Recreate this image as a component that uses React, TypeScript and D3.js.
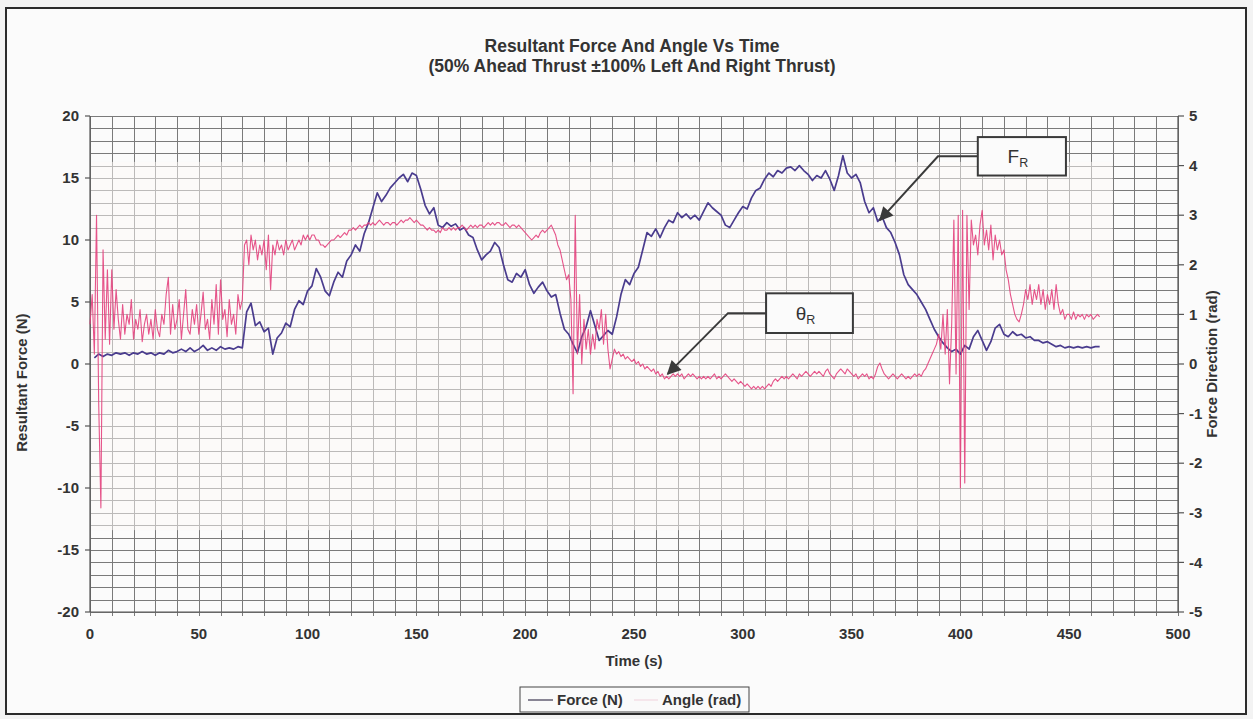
import { useEffect, useRef } from 'react';
import * as d3 from 'd3';

// Force (N) sampled every 2 s from t = 2 s
const forceStart = 2;
const forceStep = 2;
const forceValues = [
    0.5, 0.8, 0.6, 0.8, 0.7, 0.9, 0.8, 0.9, 0.7, 0.9,
    0.8, 1.0, 0.8, 0.9, 0.7, 0.9, 0.8, 1.1, 0.9, 1.0,
    1.2, 1.0, 1.3, 1.0, 1.2, 1.5, 1.1, 1.3, 1.1, 1.4,
    1.2, 1.3, 1.2, 1.4, 1.3, 4.2, 4.9, 3.1, 3.4, 2.6,
    2.9, 0.8, 2.1, 2.5, 3.3, 3.0, 4.4, 5.1, 4.8, 5.9,
    6.3, 7.7, 7.0, 5.9, 5.5, 6.6, 7.4, 7.0, 8.3, 8.8,
    9.6, 9.1, 10.5, 11.4, 12.6, 13.8, 13.1, 13.6, 14.2, 14.6,
    15.0, 15.3, 14.7, 15.4, 15.2, 14.1, 12.8, 12.1, 12.6, 11.2,
    11.0, 11.4, 11.1, 11.3, 10.8, 11.0, 10.4, 10.2, 9.2, 8.4,
    8.8, 9.1, 9.8, 9.4, 8.0, 6.8, 6.6, 7.3, 7.0, 7.6,
    6.4, 5.7, 6.2, 6.6, 5.9, 5.4, 5.6, 4.1, 2.8, 2.4,
    1.6, 0.9, 2.2, 3.0, 4.3, 3.1, 1.9, 2.3, 2.7, 2.4,
    3.8, 5.6, 6.8, 6.4, 7.3, 7.8, 9.2, 10.6, 10.3, 10.9,
    10.2, 11.0, 11.6, 11.4, 12.2, 11.8, 12.1, 11.7, 12.0, 11.6,
    12.3, 13.0, 12.6, 12.3, 12.0, 11.2, 11.0, 11.6, 12.2, 12.7,
    12.5, 13.4, 14.0, 14.2, 14.9, 15.4, 15.1, 15.6, 15.4, 15.8,
    15.9, 15.6, 16.0, 15.6, 15.3, 14.8, 15.2, 15.0, 15.6, 14.9,
    14.0, 15.2, 16.8, 15.4, 15.0, 15.3, 14.6, 13.1, 12.2, 12.6,
    11.5, 11.9, 11.0, 10.6, 9.8, 8.8, 7.2, 6.4, 6.0, 5.6,
    5.0, 4.4, 3.6, 2.8, 2.2, 1.7, 1.3, 1.0, 1.2, 0.8,
    1.5, 1.2, 2.2, 2.7, 1.9, 1.1, 1.8, 2.9, 3.2, 2.4,
    2.2, 2.6, 2.3, 2.4, 2.1, 2.2, 1.9, 1.9, 1.7, 1.8,
    1.6, 1.4, 1.5, 1.3, 1.4, 1.3, 1.4, 1.3, 1.4, 1.3,
    1.4, 1.4,
];

// Angle (rad) sampled every 1 s from t = 0 s
const angleStart = 0;
const angleStep = 1;
const angleValues = [
    0.8, 1.4, 0.2, 3.0, -0.8, -2.9, 2.3, 0.5, 1.9, 0.4,
    1.9, 0.7, 1.5, 0.9, 0.5, 1.2, 0.6, 1.0, 0.8, 1.3,
    0.5, 0.9, 0.7, 1.1, 0.45, 0.8, 1.0, 0.6, 0.9, 0.5,
    1.1, 0.7, 0.55, 1.0, 0.8, 1.4, 1.75, 0.6, 1.2, 0.7,
    0.9, 1.3, 0.5, 1.0, 1.5, 0.7, 0.6, 1.1, 0.8, 1.2,
    0.6, 1.0, 1.45, 0.7, 0.9, 0.5, 1.3, 0.8, 1.6, 0.6,
    1.7, 0.9, 1.1, 0.55, 1.3, 0.8, 1.0, 0.6, 1.4, 1.1,
    1.3, 2.4, 2.5, 2.0, 2.6, 2.3, 2.5, 2.1, 2.4, 2.2,
    2.5, 1.9, 2.6, 1.5, 2.4, 2.2, 2.5, 2.3, 2.4, 2.2,
    2.5, 2.3, 2.4, 2.5, 2.3, 2.4, 2.5, 2.4, 2.6, 2.5,
    2.6, 2.5, 2.6, 2.6, 2.5, 2.5, 2.4, 2.4, 2.35, 2.4,
    2.45, 2.5, 2.5, 2.55, 2.6, 2.55, 2.6, 2.65, 2.6, 2.7,
    2.7, 2.75, 2.7, 2.75, 2.8, 2.75, 2.8, 2.8, 2.85, 2.8,
    2.85, 2.8, 2.85, 2.9, 2.85, 2.8, 2.85, 2.85, 2.8, 2.85,
    2.85, 2.8, 2.85, 2.9, 2.85, 2.9, 2.9, 2.95, 2.9, 2.85,
    2.9, 2.85, 2.8, 2.8, 2.75, 2.7, 2.75, 2.7, 2.7, 2.65,
    2.7, 2.65, 2.75, 2.7, 2.7, 2.75, 2.7, 2.75, 2.7, 2.75,
    2.75, 2.8, 2.75, 2.7, 2.75, 2.8, 2.75, 2.8, 2.75, 2.8,
    2.8, 2.75, 2.8, 2.85, 2.8, 2.85, 2.8, 2.85, 2.85, 2.8,
    2.8, 2.85, 2.8, 2.75, 2.8, 2.8, 2.75, 2.8, 2.75, 2.7,
    2.65, 2.6, 2.55, 2.5, 2.55, 2.6, 2.55, 2.65, 2.7, 2.65,
    2.7, 2.75, 2.8, 2.7, 2.6, 2.4, 2.3, 2.1, 1.9, 1.7,
    1.8, 1.3, -0.6, 3.0, 0.2, 1.4, 0.0, 0.9, 0.3, 0.7,
    0.2, 0.6, 0.3, 0.9, 0.7, 1.1, 0.4, 1.0, 0.3, -0.1,
    0.1, 0.3, 0.2, 0.25, 0.15, 0.2, 0.1, 0.15, 0.1, 0.05,
    0.1, 0.0, 0.05, -0.05, 0.0, -0.1, -0.05, -0.1, -0.15, -0.1,
    -0.2, -0.15, -0.25, -0.2, -0.3, -0.25, -0.3, -0.25, -0.2, -0.25,
    -0.2, -0.25, -0.2, -0.3, -0.25, -0.2, -0.25, -0.2, -0.25, -0.3,
    -0.25, -0.3, -0.25, -0.3, -0.25, -0.3, -0.25, -0.2, -0.3, -0.25,
    -0.3, -0.25, -0.2, -0.25, -0.3, -0.35, -0.3, -0.35, -0.4, -0.35,
    -0.4, -0.45, -0.4, -0.45, -0.5, -0.45, -0.5, -0.45, -0.5, -0.45,
    -0.5, -0.45, -0.4, -0.45, -0.35, -0.3, -0.35, -0.3, -0.25, -0.3,
    -0.25, -0.3, -0.25, -0.2, -0.25, -0.3, -0.2, -0.25, -0.2, -0.15,
    -0.2, -0.25, -0.2, -0.15, -0.2, -0.15, -0.2, -0.25, -0.15, -0.1,
    -0.2, -0.25, -0.3, -0.2, -0.15, -0.1, -0.15, -0.2, -0.1, -0.15,
    -0.2, -0.25, -0.2, -0.3, -0.25, -0.2, -0.25, -0.2, -0.3, -0.25,
    -0.3, -0.2, -0.05, 0.02, -0.1, -0.2, -0.25, -0.3, -0.25, -0.2,
    -0.25, -0.3, -0.25, -0.2, -0.25, -0.3, -0.25, -0.3, -0.25, -0.2,
    -0.25, -0.2, -0.25, -0.15, -0.1, 0.0, 0.1, 0.2, 0.3, 0.4,
    0.6, 0.3, 1.0, 0.2, 1.1, -0.4, 0.8, 2.9, -0.2, 3.0,
    -2.5, 3.1, -2.4, 3.0, 1.1, 2.9, 2.4, 2.6, 2.2, 2.8,
    3.1, 2.4, 2.7, 2.3, 2.8, 2.1, 2.6, 2.3, 2.5, 2.2,
    2.3, 1.9, 1.7, 1.4, 1.2, 1.0, 0.9, 0.85, 1.0, 1.2,
    1.5, 1.3, 1.6, 1.2, 1.5, 1.3, 1.6, 1.2, 1.5, 1.1,
    1.4, 1.2, 1.5, 1.1, 1.6, 1.2, 1.0, 1.1, 0.9, 1.0,
    1.0, 0.9, 1.05, 0.9, 1.0, 0.95, 1.0, 0.9, 1.0, 0.95,
    1.0, 0.9, 0.95, 1.0, 0.95,
];

const timeTicks = [0, 50, 100, 150, 200, 250, 300, 350, 400, 450, 500];
const forceTicks = [-20, -15, -10, -5, 0, 5, 10, 15, 20];
const angleTicks = [-5, -4, -3, -2, -1, 0, 1, 2, 3, 4, 5];

const titleLines = [
    'Resultant Force And Angle Vs Time',
    '(50% Ahead Thrust \u00b1100% Left And Right Thrust)',
];

// callouts in data units (time, force)
const callouts = [
    { main: 'F', sub: 'R', t0: 408, t1: 448.5, f0: 18.3, f1: 15.2, elbowT: 389.7, tipT: 363, tipF: 11.6 },
    { main: '\u03b8', sub: 'R', t0: 310.7, t1: 350.6, f0: 5.7, f1: 2.5, elbowT: 293.2, tipT: 265.5, tipF: -0.8 },
];

const W = 1253;
const H = 719;
const FONT = '"Liberation Sans", Arial, sans-serif';
const FORCE_COLOR = '#4a3c8e';
const ANGLE_COLOR = '#e3417d';

export default function App() {
    const svgRef = useRef<SVGSVGElement>(null);

    useEffect(() => {
        if (!svgRef.current) return;
        const svg = d3.select(svgRef.current);
        svg.selectAll('*').remove();

        const x = d3.scaleLinear().domain([0, 500]).range([90, 1178]);
        const yF = d3.scaleLinear().domain([-20, 20]).range([612, 116]);
        const yA = d3.scaleLinear().domain([-5, 5]).range([612, 116]);

        // page + chart frame
        svg.append('rect').attr('width', W).attr('height', H).attr('fill', '#f3f3f3');
        svg.append('rect')
            .attr('x', 6).attr('y', 8).attr('width', 1240).attr('height', 706)
            .attr('fill', '#fbfbfb').attr('stroke', '#2b2b2b').attr('stroke-width', 2);

        // grid
        const grid = svg.append('g').attr('stroke', '#7a7a7a').attr('stroke-width', 1);
        d3.range(0, 501, 10).forEach((t) => {
            const px = Math.round(x(t)) + 0.5;
            grid.append('line').attr('x1', px).attr('x2', px).attr('y1', yF(20)).attr('y2', yF(-20) + 4);
        });
        d3.range(-20, 21, 1).forEach((f) => {
            const py = Math.round(yF(f)) + 0.5;
            grid.append('line').attr('x1', x(0)).attr('x2', x(500)).attr('y1', py).attr('y2', py);
        });

        // lighter centre of the sheet
        svg.append('rect')
            .attr('x', x(0) + 1).attr('y', yF(16.3))
            .attr('width', x(470) - x(0) - 1).attr('height', yF(-13.4) - yF(16.3))
            .attr('fill', '#fdf9f8').attr('opacity', 0.5);

        // axes
        const axes = svg.append('g').attr('stroke', '#555').attr('stroke-width', 1.2);
        axes.append('line').attr('x1', x(0)).attr('x2', x(0)).attr('y1', yF(20)).attr('y2', yF(-20));
        axes.append('line').attr('x1', x(500)).attr('x2', x(500)).attr('y1', yF(20)).attr('y2', yF(-20));
        axes.append('line').attr('x1', x(0)).attr('x2', x(500)).attr('y1', yF(-20)).attr('y2', yF(-20));
        forceTicks.forEach((f) => {
            axes.append('line').attr('x1', x(0) - 5).attr('x2', x(0)).attr('y1', yF(f)).attr('y2', yF(f));
        });
        angleTicks.forEach((a) => {
            axes.append('line').attr('x1', x(500)).attr('x2', x(500) + 6).attr('y1', yA(a)).attr('y2', yA(a));
        });

        const labels = svg.append('g')
            .attr('font-family', FONT).attr('font-size', 15).attr('font-weight', 'bold').attr('fill', '#333');
        forceTicks.forEach((f) => {
            labels.append('text').attr('x', 79).attr('y', yF(f)).attr('dy', '0.35em')
                .attr('text-anchor', 'end').text(f);
        });
        angleTicks.forEach((a) => {
            labels.append('text').attr('x', 1189).attr('y', yA(a)).attr('dy', '0.35em')
                .attr('text-anchor', 'start').text(a);
        });
        timeTicks.forEach((t) => {
            labels.append('text').attr('x', x(t)).attr('y', 634).attr('dy', '0.35em')
                .attr('text-anchor', 'middle').text(t);
        });

        const titles = svg.append('g')
            .attr('font-family', FONT).attr('font-weight', 'bold').attr('fill', '#333');
        titleLines.forEach((line, i) => {
            titles.append('text').attr('x', 632).attr('y', 46 + i * 20).attr('dy', '0.35em')
                .attr('font-size', 17.5).attr('text-anchor', 'middle').text(line);
        });
        titles.append('text').attr('x', 634).attr('y', 661).attr('dy', '0.35em')
            .attr('font-size', 15).attr('text-anchor', 'middle').text('Time (s)');
        titles.append('text')
            .attr('transform', `translate(22,${yF(-1.5)}) rotate(-90)`).attr('dy', '0.35em')
            .attr('font-size', 15).attr('text-anchor', 'middle').text('Resultant Force (N)');
        titles.append('text')
            .attr('transform', `translate(1212,${yA(0)}) rotate(-90)`).attr('dy', '0.35em')
            .attr('font-size', 15).attr('text-anchor', 'middle').text('Force Direction (rad)');

        // series
        const forceLine = d3.line<number>()
            .x((_, i) => x(forceStart + i * forceStep))
            .y((d) => yF(d));
        const angleLine = d3.line<number>()
            .x((_, i) => x(angleStart + i * angleStep))
            .y((d) => yA(d));

        svg.append('path').datum(forceValues)
            .attr('fill', 'none').attr('stroke', FORCE_COLOR).attr('stroke-width', 1.7)
            .attr('stroke-linejoin', 'round').attr('d', forceLine);
        svg.append('path').datum(angleValues)
            .attr('fill', 'none').attr('stroke', ANGLE_COLOR).attr('stroke-width', 1.1)
            .attr('stroke-opacity', 0.9).attr('stroke-linejoin', 'round').attr('d', angleLine);

        // callouts
        const defs = svg.append('defs');
        defs.append('marker')
            .attr('id', 'arrowHead').attr('viewBox', '0 0 10 10').attr('refX', 9).attr('refY', 5)
            .attr('markerWidth', 8).attr('markerHeight', 7).attr('markerUnits', 'strokeWidth')
            .attr('orient', 'auto')
            .append('path').attr('d', 'M0,0 L10,5 L0,10 z').attr('fill', '#3a3a3a');

        callouts.forEach((c) => {
            const bx = x(c.t0);
            const by = yF(c.f0);
            const bw = x(c.t1) - x(c.t0);
            const bh = yF(c.f1) - yF(c.f0);
            const midY = by + bh / 2;
            svg.append('path')
                .attr('d', `M${bx},${midY} L${x(c.elbowT)},${midY} L${x(c.tipT)},${yF(c.tipF)}`)
                .attr('fill', 'none').attr('stroke', '#3a3a3a').attr('stroke-width', 2)
                .attr('marker-end', 'url(#arrowHead)');
            svg.append('rect')
                .attr('x', bx).attr('y', by).attr('width', bw).attr('height', bh)
                .attr('fill', '#fbfbfb').attr('stroke', '#3a3a3a').attr('stroke-width', 2);
            const txt = svg.append('text')
                .attr('x', bx + bw / 2 - 4).attr('y', midY).attr('dy', '0.35em')
                .attr('text-anchor', 'middle').attr('font-family', FONT).attr('font-size', 19)
                .attr('fill', '#333');
            txt.append('tspan').text(c.main);
            txt.append('tspan').attr('font-size', 12.5).attr('dy', 4).text(c.sub);
        });

        // legend
        const lg = svg.append('g');
        lg.append('rect').attr('x', 520).attr('y', 687).attr('width', 229).attr('height', 25)
            .attr('fill', '#fafafa').attr('stroke', '#444').attr('stroke-width', 1);
        lg.append('line').attr('x1', 528).attr('x2', 553).attr('y1', 700).attr('y2', 700)
            .attr('stroke', '#3c3650').attr('stroke-width', 1.2);
        lg.append('line').attr('x1', 634).attr('x2', 658).attr('y1', 700).attr('y2', 700)
            .attr('stroke', '#f0d2dc').attr('stroke-width', 1);
        lg.append('text').attr('x', 557).attr('y', 700).attr('dy', '0.35em')
            .attr('font-family', FONT).attr('font-size', 15).attr('font-weight', 'bold')
            .attr('fill', '#333').text('Force (N)');
        lg.append('text').attr('x', 662).attr('y', 700).attr('dy', '0.35em')
            .attr('font-family', FONT).attr('font-size', 15).attr('font-weight', 'bold')
            .attr('fill', '#333').text('Angle (rad)');
    }, []);

    return (
        <svg
            ref={svgRef}
            width={W}
            height={H}
            style={{ position: 'absolute', left: 0, top: 0 }}
        />
    );
}
